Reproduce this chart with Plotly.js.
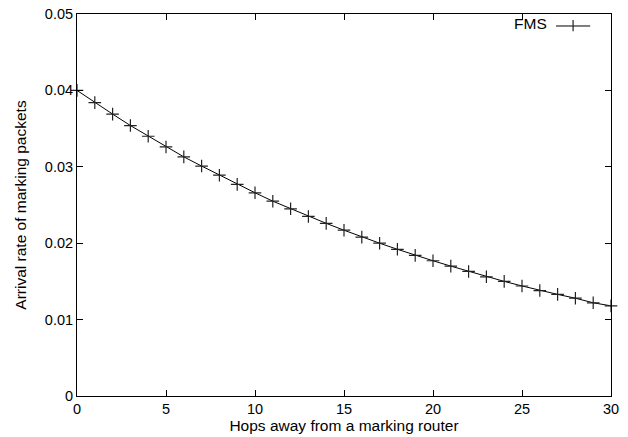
<!DOCTYPE html>
<html>
<head>
<meta charset="utf-8">
<script src="https://cdn.plot.ly/plotly-3.0.1.min.js"></script>
<style>html,body{margin:0;padding:0;background:#fff}#chart{width:628px;height:437px}</style>
</head>
<body>
<div id="chart"></div>
<script>
const hops = [0,1,2,3,4,5,6,7,8,9,10,11,12,13,14,15,16,17,18,19,20,21,22,23,24,25,26,27,28,29,30];
const fmsRate = [0.0400,0.0384,0.0369,0.0354,0.0340,0.0326,0.0313,0.0301,0.0289,0.0277,
                 0.0266,0.0255,0.0245,0.0235,0.0226,0.0217,0.0208,0.0200,0.0192,0.0184,
                 0.0177,0.0170,0.0163,0.0156,0.0150,0.0144,0.0138,0.0133,0.0128,0.0122,0.0118];
const xTicks = [0,5,10,15,20,25,30];
const yTicks = [0,0.01,0.02,0.03,0.04,0.05];
const yTickLabels = ['0','0.01','0.02','0.03','0.04','0.05'];
const seriesName = 'FMS';

const tickFont = {family: 'Liberation Sans, Arial, sans-serif', size: 14.5, color: '#000'};
const titleFont = {family: 'Liberation Sans, Arial, sans-serif', size: 15.5, color: '#000'};

const trace = {
  x: hops, y: fmsRate, type: 'scatter', mode: 'lines+markers', name: seriesName,
  line: {color: '#000', width: 1},
  marker: {symbol: 'cross-thin', size: 9, line: {color: '#222', width: 1.2}},
  showlegend: false, cliponaxis: false
};

const axisBase = {
  showline: true, linecolor: '#000', linewidth: 1, mirror: 'ticks',
  ticks: 'inside', ticklen: 6, tickcolor: '#000', tickwidth: 1,
  showgrid: false, zeroline: false, tickfont: tickFont
};

const layout = {
  width: 628, height: 437,
  margin: {l: 77, r: 17, t: 14, b: 41},
  paper_bgcolor: '#fff', plot_bgcolor: '#fff',
  font: tickFont,
  xaxis: Object.assign({}, axisBase, {
    range: [0, 30], tickvals: xTicks, ticktext: xTicks.map(String),
    title: {text: 'Hops away from a marking router', font: titleFont, standoff: 0}
  }),
  yaxis: Object.assign({}, axisBase, {
    range: [0, 0.05], tickvals: yTicks, ticktext: yTickLabels,
    title: {text: 'Arrival rate of marking packets', font: titleFont, standoff: 14}
  }),
  annotations: [{
    xref: 'paper', yref: 'paper', x: 0.884, y: 0.974, xanchor: 'right', yanchor: 'middle',
    text: seriesName, showarrow: false, font: titleFont
  }],
  shapes: [
    {type: 'line', xref: 'paper', yref: 'paper', x0: 0.897, x1: 0.961, y0: 0.9686, y1: 0.9686,
     line: {color: '#000', width: 1}},
    {type: 'line', xref: 'paper', yref: 'paper', x0: 0.929, x1: 0.929, y0: 0.955, y1: 0.984,
     line: {color: '#222', width: 1.2}}
  ]
};

Plotly.newPlot('chart', [trace], layout, {staticPlot: true, displayModeBar: false});
</script>
</body>
</html>
